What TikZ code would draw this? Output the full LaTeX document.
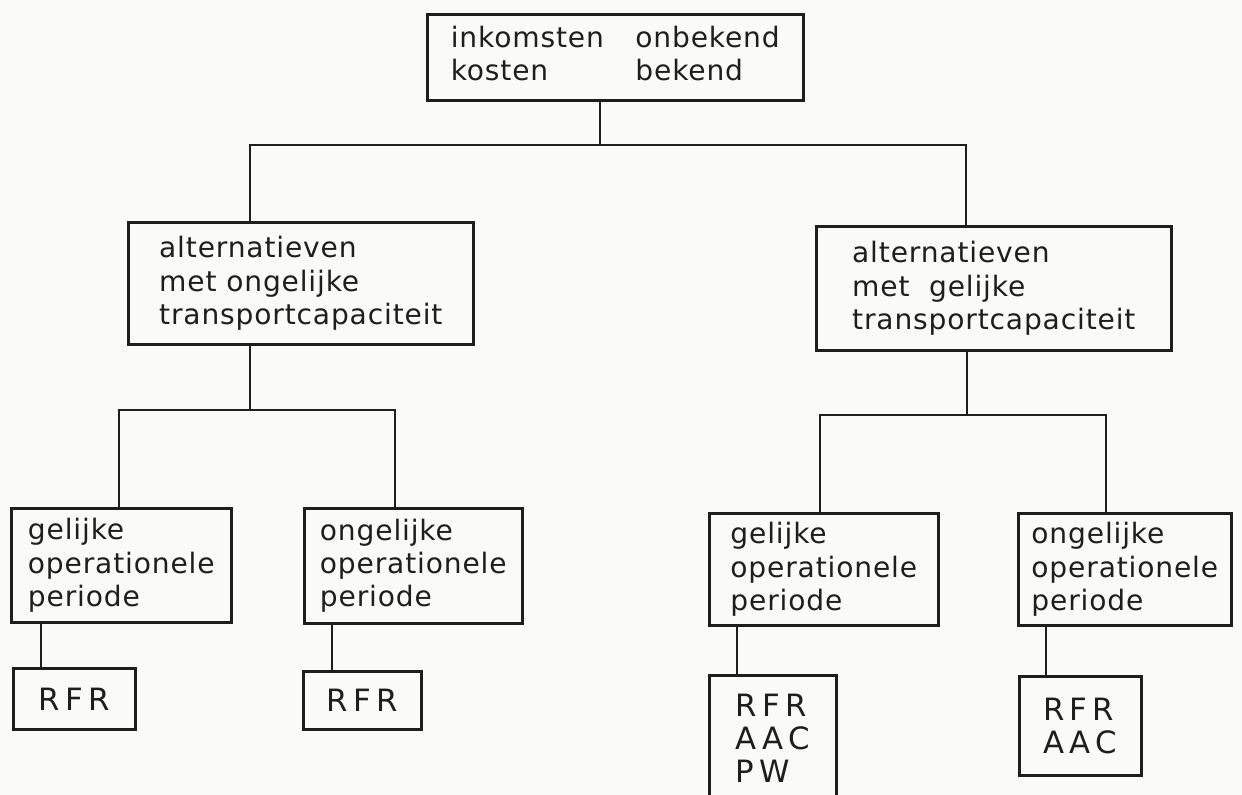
\documentclass[tikz,border=0pt]{standalone}
\usepackage{fontspec}
\setmainfont{DejaVu Sans}[LetterSpace=3]
\usepackage{xcolor}
\usepackage{tikz}
\usetikzlibrary{calc}

\definecolor{ink}{HTML}{1E1E1E}
\definecolor{paper}{HTML}{FAFAF8}

\begin{document}
\begin{tikzpicture}[x=0.02cm,y=-0.02cm]%%beslisboom
                \tikzstyle{box}  = [rectangle, draw=ink, line width=1.5pt, anchor=north west, align=left, inner sep=0pt, text=ink, font=\fontsize{16}{19}\selectfont]
                \tikzstyle{code} = [box, font=\fontsize{17.5}{19}\selectfont]
                \tikzstyle{wire} = [draw=ink, line width=1.6pt]
                \useasboundingbox[fill=paper] (0,0) rectangle (1242,795);

                \node [box, minimum width=7.52cm, minimum height=1.72cm](top) at (426,13)
                        {\begin{tabular}{@{}l@{\hspace{18pt}}l@{}}inkomsten & onbekend\\ kosten & bekend\end{tabular}};

                \node [box, minimum width=6.90cm, minimum height=2.44cm](midL) at (127,221) {alternatieven\\ met ongelijke\\ transportcapaciteit};
                \node [box, minimum width=7.10cm, minimum height=2.48cm](midR) at (815,225) {alternatieven\\ met~~gelijke\\ transportcapaciteit};

                \node [box, minimum width=4.40cm, minimum height=2.28cm](leaf1) at (10,507)   {gelijke\\ operationele\\ periode};
                \node [box, minimum width=4.36cm, minimum height=2.30cm](leaf2) at (303,507)  {ongelijke\\ operationele\\ periode};
                \node [box, minimum width=4.58cm, minimum height=2.24cm](leaf3) at (708,512)  {gelijke\\ operationele\\ periode};
                \node [box, minimum width=4.26cm, minimum height=2.24cm](leaf4) at (1017,512) {ongelijke\\ operationele\\ periode};

                \node [code, minimum width=2.44cm, minimum height=1.22cm](res1) at (12,667)   {R\,F\,R};
                \node [code, minimum width=2.36cm, minimum height=1.16cm](res2) at (302,670)  {R\,F\,R};
                \node [code, minimum width=2.54cm, minimum height=2.52cm](res3) at (708,674)  {R\,F\,R\\ A\,A\,C\\ P\,W};
                \node [code, minimum width=2.44cm, minimum height=1.98cm](res4) at (1018,675) {R\,F\,R\\ A\,A\,C};

                % junctions of the bus lines
                \coordinate (j0) at (600,145);
                \coordinate (aL) at (250,145);
                \coordinate (aR) at (966,145);
                \coordinate (bL) at (250,410);
                \coordinate (c1) at (119,410);
                \coordinate (c2) at (395,410);
                \coordinate (bR) at (967,415);
                \coordinate (c3) at (820,415);
                \coordinate (c4) at (1106,415);

                \draw [wire] (j0 |- top.south)--(j0);
                \draw [wire] (aL |- midL.north)--(aL)--(aR)--(aR |- midR.north);

                \draw [wire] (bL |- midL.south)--(bL);
                \draw [wire] (c1 |- leaf1.north)--(c1)--(c2)--(c2 |- leaf2.north);
                \draw [wire] (bR |- midR.south)--(bR);
                \draw [wire] (c3 |- leaf3.north)--(c3)--(c4)--(c4 |- leaf4.north);

                \foreach \i/\x in {1/41,2/332,3/737,4/1046}{
                        \coordinate (d\i) at (\x,650);
                        \draw [wire] (d\i |- leaf\i.south)--(d\i |- res\i.north);
                }
\end{tikzpicture}
\end{document}
